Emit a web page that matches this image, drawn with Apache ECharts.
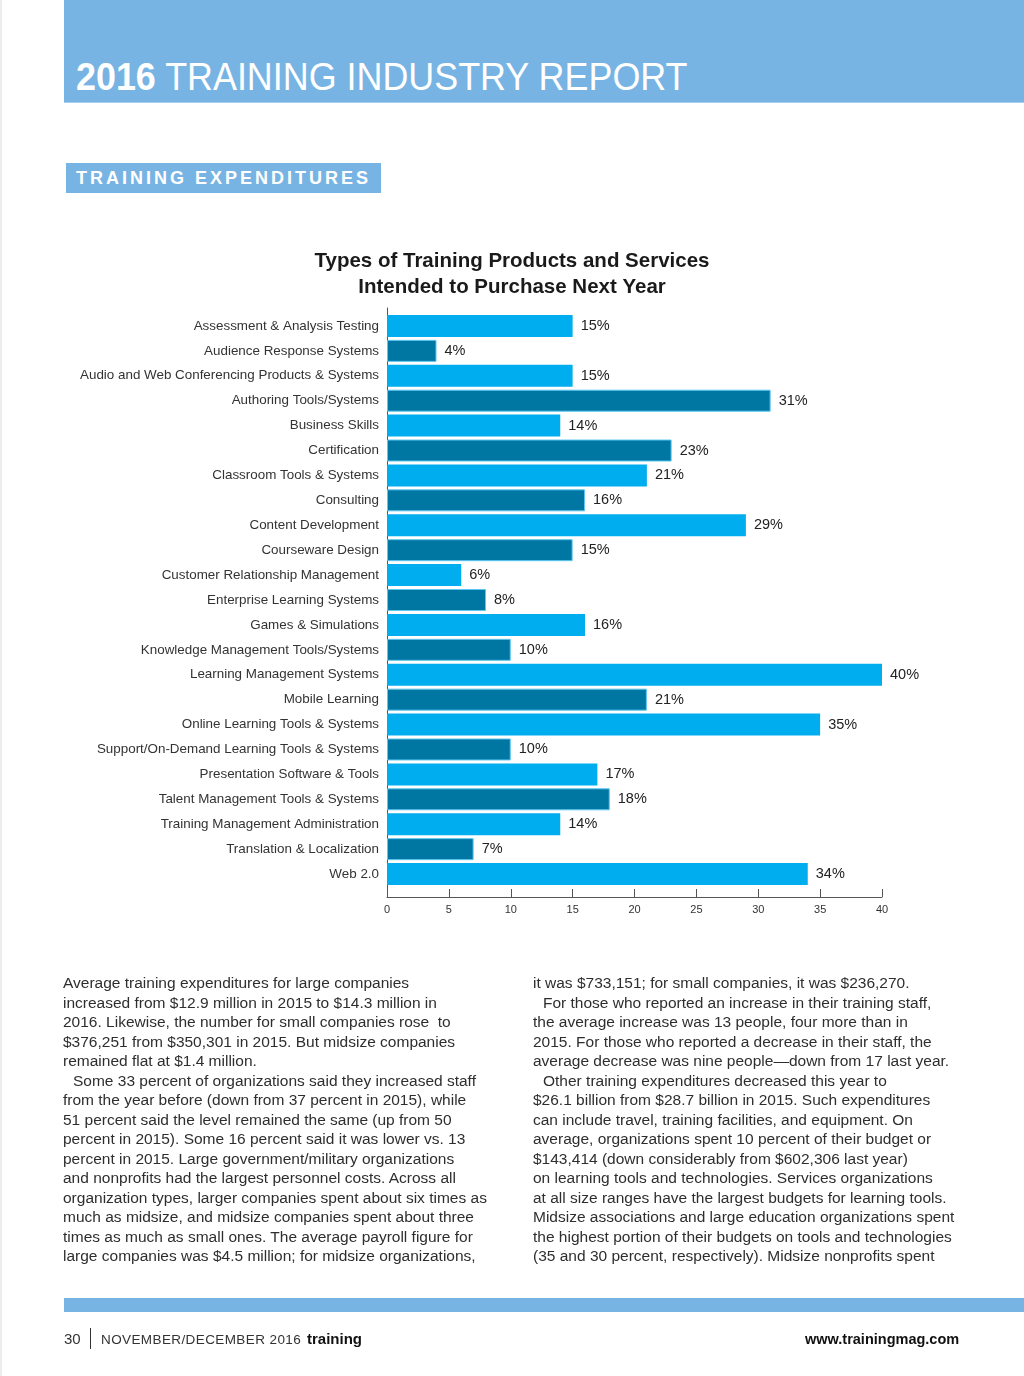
<!DOCTYPE html>
<html><head><meta charset="utf-8">
<script src="https://cdn.jsdelivr.net/npm/echarts@6/dist/echarts.min.js"></script>
<style>
html,body{margin:0;padding:0;background:#fff;}
body{width:1024px;height:1376px;position:relative;overflow:hidden;font-family:"Liberation Sans",Arial,sans-serif;}
#chart{position:absolute;left:0;top:0;width:1024px;height:1376px;z-index:0;}
.abs{position:absolute;z-index:1;}
#edge{left:0;top:0;width:2px;height:1376px;background:#ececec;}
#header{left:64px;top:0;width:960px;height:102px;background:#77b4e3;border-bottom:1px solid #a8cdee;}
#htitle{left:76px;top:57px;font-size:39px;line-height:39px;color:#fff;white-space:nowrap;transform:scaleX(0.92);transform-origin:0 0;}
#htitle b{font-weight:bold;}
#section{left:66px;top:163px;width:315px;height:30px;background:#77b4e3;color:#fff;font-weight:bold;font-size:18px;line-height:30px;letter-spacing:3px;padding-left:10px;box-sizing:border-box;white-space:nowrap;}
.col{font-size:15.5px;line-height:19.5px;color:#2e2e2e;white-space:nowrap;top:973px;}
.col .ind{padding-left:10px;}
#col1{left:63px;}
#col2{left:533px;}
#fband{left:64px;top:1298px;width:960px;height:14px;background:#77b4e3;}
#fpage{left:64px;top:1330px;font-size:15px;line-height:18px;color:#333;}
#fbar{left:90px;top:1328px;width:1px;height:21px;background:#333;}
#fdate{left:101px;top:1331px;font-size:13.5px;line-height:18px;color:#333;letter-spacing:0.4px;white-space:nowrap;}
#fmag{left:307px;top:1330px;font-size:15px;line-height:18px;color:#111;font-weight:bold;}
#fweb{left:805px;top:1330px;font-size:14.5px;line-height:18px;color:#111;font-weight:bold;}
</style>
</head>
<body>
<div id="chart"></div>
<div class="abs" id="edge"></div>
<div class="abs" id="header"></div>
<div class="abs" id="htitle"><b>2016</b> TRAINING INDUSTRY REPORT</div>
<div class="abs" id="section">TRAINING EXPENDITURES</div>
<div class="abs col" id="col1">
<div>Average training expenditures for large companies</div>
<div>increased from $12.9 million in 2015 to $14.3 million in</div>
<div>2016. Likewise, the number for small companies rose&nbsp; to</div>
<div>$376,251 from $350,301 in 2015. But midsize companies</div>
<div>remained flat at $1.4 million.</div>
<div class="ind">Some 33 percent of organizations said they increased staff</div>
<div>from the year before (down from 37 percent in 2015), while</div>
<div>51 percent said the level remained the same (up from 50</div>
<div>percent in 2015). Some 16 percent said it was lower vs. 13</div>
<div>percent in 2015. Large government/military organizations</div>
<div>and nonprofits had the largest personnel costs. Across all</div>
<div>organization types, larger companies spent about six times as</div>
<div>much as midsize, and midsize companies spent about three</div>
<div>times as much as small ones. The average payroll figure for</div>
<div>large companies was $4.5 million; for midsize organizations,</div>
</div>
<div class="abs col" id="col2">
<div>it was $733,151; for small companies, it was $236,270.</div>
<div class="ind">For those who reported an increase in their training staff,</div>
<div>the average increase was 13 people, four more than in</div>
<div>2015. For those who reported a decrease in their staff, the</div>
<div>average decrease was nine people—down from 17 last year.</div>
<div class="ind">Other training expenditures decreased this year to</div>
<div>$26.1 billion from $28.7 billion in 2015. Such expenditures</div>
<div>can include travel, training facilities, and equipment. On</div>
<div>average, organizations spent 10 percent of their budget or</div>
<div>$143,414 (down considerably from $602,306 last year)</div>
<div>on learning tools and technologies. Services organizations</div>
<div>at all size ranges have the largest budgets for learning tools.</div>
<div>Midsize associations and large education organizations spent</div>
<div>the highest portion of their budgets on tools and technologies</div>
<div>(35 and 30 percent, respectively). Midsize nonprofits spent</div>
</div>
<div class="abs" id="fband"></div>
<div class="abs" id="fpage">30</div>
<div class="abs" id="fbar"></div>
<div class="abs" id="fdate">NOVEMBER/DECEMBER 2016</div>
<div class="abs" id="fmag">training</div>
<div class="abs" id="fweb">www.trainingmag.com</div>
<script>
var chartTitle = 'Types of Training Products and Services\nIntended to Purchase Next Year';
var categories = [
  'Assessment & Analysis Testing',
  'Audience Response Systems',
  'Audio and Web Conferencing Products & Systems',
  'Authoring Tools/Systems',
  'Business Skills',
  'Certification',
  'Classroom Tools & Systems',
  'Consulting',
  'Content Development',
  'Courseware Design',
  'Customer Relationship Management',
  'Enterprise Learning Systems',
  'Games & Simulations',
  'Knowledge Management Tools/Systems',
  'Learning Management Systems',
  'Mobile Learning',
  'Online Learning Tools & Systems',
  'Support/On-Demand Learning Tools & Systems',
  'Presentation Software & Tools',
  'Talent Management Tools & Systems',
  'Training Management Administration',
  'Translation & Localization',
  'Web 2.0'
];
var values = [15, 4, 15, 31, 14, 23, 21, 16, 29, 15, 6, 8, 16, 10, 40, 21, 35, 10, 17, 18, 14, 7, 34];
var xTicks = [0, 5, 10, 15, 20, 25, 30, 35, 40];

var chart = echarts.init(document.getElementById('chart'), null, {renderer: 'canvas'});
var lightBlue = '#00adee';
var darkBlue = '#0076a3';
chart.setOption({
  animation: false,
  backgroundColor: 'transparent',
  title: {
    text: chartTitle,
    left: 'center',
    top: 243,
    textStyle: {fontFamily: 'Liberation Sans, Arial, sans-serif', fontSize: 20.5, fontWeight: 'bold', color: '#1a1a1a', lineHeight: 26}
  },
  grid: [
    {left: 387, width: 495, top: 313.5, height: 573, containLabel: false},
    {left: 387, width: 495, top: 308, height: 589, containLabel: false}
  ],
  xAxis: [
    {type: 'value', gridIndex: 0, min: 0, max: 40, interval: 5, show: false},
    {type: 'value', gridIndex: 1, min: xTicks[0], max: xTicks[xTicks.length - 1], interval: 5,
      axisLine: {show: true, lineStyle: {color: '#555', width: 1}},
      axisTick: {show: true, inside: true, length: 8, lineStyle: {color: '#555'}},
      axisLabel: {show: true, margin: 7, fontSize: 11, color: '#333', fontFamily: 'Liberation Sans, Arial, sans-serif'},
      splitLine: {show: false}}
  ],
  yAxis: [
    {type: 'category', gridIndex: 0, data: categories, inverse: true,
      axisLine: {show: false}, axisTick: {show: false},
      axisLabel: {margin: 8, fontSize: 13.4, color: '#333', fontFamily: 'Liberation Sans, Arial, sans-serif'}},
    {type: 'value', gridIndex: 1, min: 0, max: 1,
      axisLine: {show: true, lineStyle: {color: '#555', width: 1}},
      axisTick: {show: false}, axisLabel: {show: false}, splitLine: {show: false}}
  ],
  series: [{
    type: 'bar',
    xAxisIndex: 0,
    yAxisIndex: 0,
    barWidth: 22,
    data: values.map(function (v, i) {
      return {
        value: v,
        itemStyle: i % 2 === 0
          ? {color: lightBlue}
          : {color: darkBlue, borderColor: '#5cc8f2', borderWidth: 1}
      };
    }),
    label: {
      show: true, position: 'right', distance: 8,
      formatter: '{c}%', fontSize: 14.5, color: '#222',
      fontFamily: 'Liberation Sans, Arial, sans-serif'
    }
  }]
});
</script>
</body></html>
